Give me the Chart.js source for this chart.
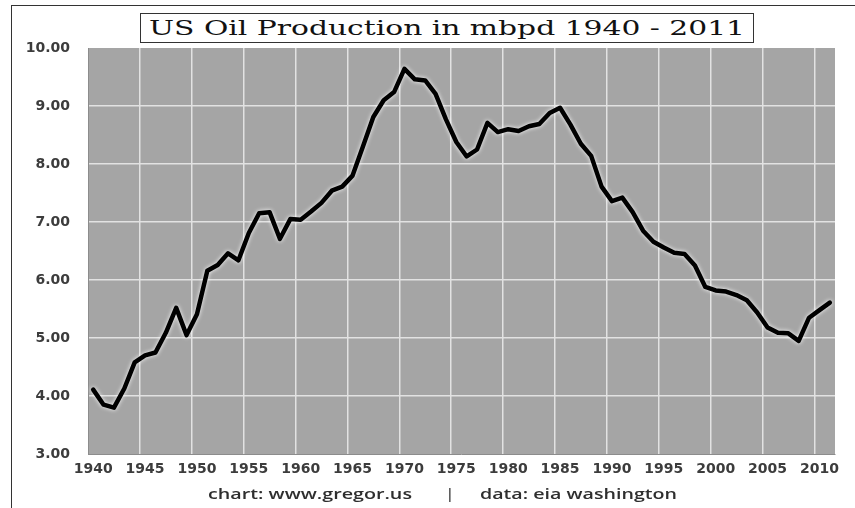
<!DOCTYPE html>
<html>
<head>
<meta charset="utf-8">
<title>US Oil Production in mbpd 1940 - 2011</title>
<script src="https://cdn.jsdelivr.net/npm/chart.js@4/dist/chart.umd.min.js"></script>
<style>
    html, body { margin: 0; padding: 0; background: #fff; }
    #wrap { position: relative; width: 855px; height: 508px; overflow: hidden; }
    #frame {
        position: absolute; left: 11px; top: 5px; width: 850px; height: 510px;
        border-top: 1.5px solid #333; border-left: 1.5px solid #333;
    }
    #chart { position: absolute; left: 0; top: 0; }
    #title {
        position: absolute; left: 140px; top: 13px; width: 612px; height: 28px;
        border: 1px solid #333; background: #fff;
    }
    .fit { position: absolute; white-space: nowrap; transform-origin: 0 50%; }
    #title .fit {
        left: 8px; top: 0; line-height: 28px;
        font-family: "DejaVu Serif", serif; font-size: 21px; color: #111;
    }
    .foot { font-family: "Open Sans", sans-serif; font-size: 14px; font-weight: 600; color: #2e2e2e; line-height: 16px; top: 486px; }
</style>
</head>
<body>
<div id="wrap">
    <div id="frame"></div>
    <canvas id="chart" width="855" height="508"></canvas>
    <div id="title"><span class="fit" data-w="596">US Oil Production in mbpd 1940 - 2011</span></div>
    <span class="fit foot" style="left:208px" data-w="204">chart: www.gregor.us</span>
    <span class="fit foot" style="left:446px">|</span>
    <span class="fit foot" style="left:480px" data-w="197">data: eia washington</span>
</div>
<script>
// US crude oil production, million barrels per day
const years = [];
for (let y = 1940; y <= 2011; y++) years.push(String(y));

const production = [
    4.11, 3.85, 3.80, 4.13, 4.58, 4.70, 4.75, 5.09, 5.52, 5.05,
    5.41, 6.16, 6.26, 6.46, 6.34, 6.81, 7.15, 7.17, 6.71, 7.05,
    7.04, 7.18, 7.33, 7.54, 7.61, 7.80, 8.30, 8.81, 9.10, 9.24,
    9.64, 9.46, 9.44, 9.21, 8.77, 8.38, 8.13, 8.25, 8.71, 8.55,
    8.60, 8.57, 8.65, 8.69, 8.88, 8.97, 8.68, 8.35, 8.14, 7.61,
    7.36, 7.42, 7.17, 6.85, 6.66, 6.56, 6.47, 6.45, 6.25, 5.88,
    5.82, 5.80, 5.74, 5.65, 5.44, 5.18, 5.09, 5.08, 4.95, 5.35,
    5.48, 5.61
];

const yTicks = [3, 4, 5, 6, 7, 8, 9, 10];

// squeeze/stretch the html texts to the widths of the original
document.querySelectorAll('.fit[data-w]').forEach(el => {
    const w = el.getBoundingClientRect().width;
    el.style.transform = 'scaleX(' + (el.dataset.w / w) + ')';
});

// gray plot area and a soft white halo round the line
const plotBackground = {
    id: 'plotBackground',
    beforeDraw(chart) {
        const { ctx, chartArea: a } = chart;
        ctx.save();
        ctx.fillStyle = '#a5a5a5';
        ctx.fillRect(a.left, a.top, a.right - a.left, a.bottom - a.top);
        ctx.restore();
    },
    beforeDatasetDraw(chart) {
        chart.ctx.save();
        chart.ctx.shadowColor = 'rgba(255,255,255,0.95)';
        chart.ctx.shadowBlur = 4;
    },
    afterDatasetDraw(chart) {
        chart.ctx.restore();
    }
};

new Chart(document.getElementById('chart'), {
    type: 'line',
    data: {
        labels: years,
        datasets: [{
            data: production,
            borderColor: '#000',
            borderWidth: 4.5,
            borderJoinStyle: 'round',
            borderCapStyle: 'round',
            pointRadius: 0,
            tension: 0
        }]
    },
    options: {
        responsive: false,
        animation: false,
        events: [],
        layout: { padding: { left: 0, top: 48, right: 20, bottom: 24 } },
        plugins: { legend: { display: false }, tooltip: { enabled: false } },
        scales: {
            x: {
                offset: true,
                afterFit: s => { s.height = 30; },
                border: { display: true, color: '#8c8c8c', width: 1 },
                grid: {
                    offset: true,
                    drawTicks: false,
                    lineWidth: 1.5,
                    color: c => (c.index > 0 && c.index < years.length && c.index % 5 === 0) ? '#e2e2e2' : 'rgba(0,0,0,0)'
                },
                ticks: {
                    autoSkip: false,
                    maxRotation: 0,
                    padding: 7,
                    color: '#3c3c3c',
                    font: { family: 'DejaVu Sans', size: 14, weight: 'bold' },
                    callback: (v, i) => i % 5 === 0 ? years[i] : ''
                }
            },
            y: {
                min: 3,
                max: 10,
                afterFit: s => { s.width = 88; },
                afterBuildTicks: s => { s.ticks = yTicks.map(v => ({ value: v })); },
                border: { display: true, color: '#8c8c8c', width: 1 },
                grid: {
                    drawTicks: false,
                    lineWidth: 1.5,
                    color: c => (c.tick && c.tick.value > 3 && c.tick.value < 10) ? '#e2e2e2' : 'rgba(0,0,0,0)'
                },
                ticks: {
                    padding: 18,
                    color: '#3c3c3c',
                    font: { family: 'DejaVu Sans', size: 14, weight: 'bold' },
                    callback: v => Number(v).toFixed(2)
                }
            }
        }
    },
    plugins: [plotBackground]
});
</script>
</body>
</html>
